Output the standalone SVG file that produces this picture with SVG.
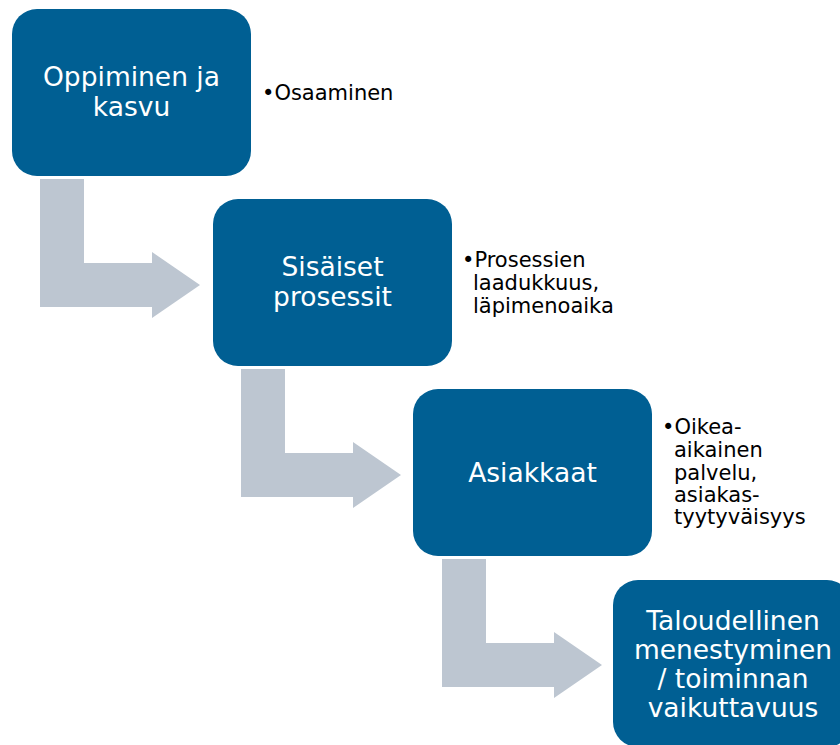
<svg xmlns="http://www.w3.org/2000/svg" width="840" height="745" viewBox="0 0 840 745">
<style>
.box{fill:#005F93}
.arrow{fill:#BDC6D1}
.lbl{font-family:"DejaVu Sans",Verdana,sans-serif;font-size:26.5px;fill:#FFFFFF;text-anchor:middle}
.bul{font-family:"DejaVu Sans",Verdana,sans-serif;font-size:21px;fill:#000000}
</style>
<rect width="840" height="745" fill="#FFFFFF"/>
<g id="connectors">
<polygon class="arrow" points="40,179 84,179 84,263 152,263 152,252 200,285 152,318 152,307 40,307"/>
<polygon class="arrow" points="241,369 285,369 285,453 353,453 353,442 401,475 353,508 353,497 241,497"/>
<polygon class="arrow" points="442,559 486,559 486,643 554,643 554,632 602,665 554,698 554,687 442,687"/>
</g>
<g id="node1">
<rect class="box" x="12" y="9" width="239" height="167" rx="25"/>
<text class="lbl"><tspan x="131.5" y="86">Oppiminen ja</tspan><tspan x="131.5" y="116">kasvu</tspan></text>
<text class="bul" x="262" y="100">•Osaaminen</text>
</g>
<g id="node2">
<rect class="box" x="213" y="199" width="239" height="167" rx="25"/>
<text class="lbl"><tspan x="332.5" y="276">Sisäiset</tspan><tspan x="332.5" y="306">prosessit</tspan></text>
<text class="bul"><tspan x="462" y="267">•Prosessien</tspan><tspan x="473" y="290">laadukkuus,</tspan><tspan x="473" y="313">läpimenoaika</tspan></text>
</g>
<g id="node3">
<rect class="box" x="413" y="389" width="239" height="167" rx="25"/>
<text class="lbl" x="532.5" y="482">Asiakkaat</text>
<text class="bul"><tspan x="662" y="434">•Oikea-</tspan><tspan x="674" y="457">aikainen</tspan><tspan x="674" y="480">palvelu,</tspan><tspan x="674" y="502">asiakas-</tspan><tspan x="674" y="524">tyytyväisyys</tspan></text>
</g>
<g id="node4">
<rect class="box" x="613" y="580" width="239" height="167" rx="25"/>
<text class="lbl"><tspan x="733" y="630">Taloudellinen</tspan><tspan x="733" y="659">menestyminen</tspan><tspan x="733" y="688">/ toiminnan</tspan><tspan x="733" y="717">vaikuttavuus</tspan></text>
</g>
</svg>
